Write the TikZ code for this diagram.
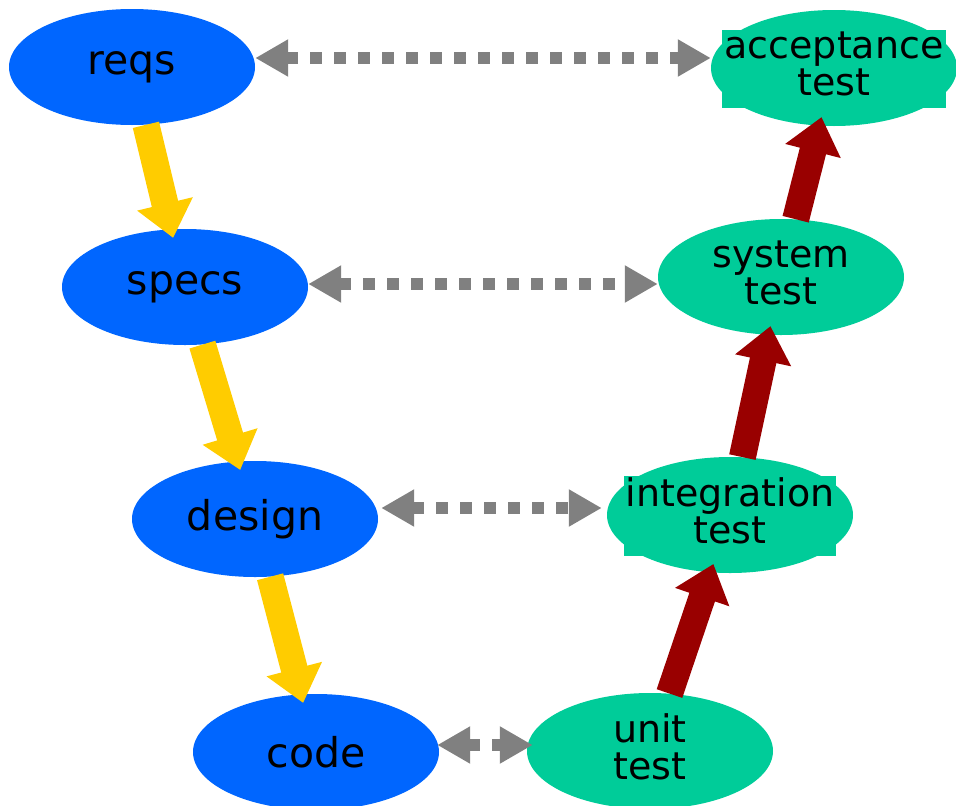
\documentclass[tikz,border=0pt]{standalone}
\usepackage{fontspec}
\setmainfont{DejaVu Sans}
\usetikzlibrary{shapes.geometric,arrows.meta}
\definecolor{reqblue}{HTML}{0066FF}
\definecolor{testgreen}{HTML}{00CC99}
\definecolor{flowyellow}{HTML}{FFCC00}
\definecolor{testred}{HTML}{990000}
\definecolor{linkgrey}{HTML}{808080}
\renewcommand{\arraystretch}{0.97}
\setlength{\fboxsep}{2pt}
% text of a test node, kept out of the ellipse size
\newcommand{\testtext}[2]{\makebox[0pt]{\raisebox{-7pt}[0pt][0pt]{\colorbox{testgreen}{\begin{tabular}{@{}c@{}}#1\\#2\end{tabular}}}}}

\begin{document}
\begin{tikzpicture}[x=1pt,y=-1pt,
		phase/.style={ellipse, fill=reqblue, minimum width=246pt, minimum height=116pt, inner sep=0pt, font=\fontsize{41}{36}\selectfont},
		testphase/.style={phase, fill=testgreen, font=\fontsize{38}{36}\selectfont},
		down/.style={-{Triangle[length=35pt,width=55pt]}, line width=27pt, flowyellow, shorten >=-9pt},
		up/.style={down, testred},
		link/.style={{Triangle[length=33pt,width=35pt]}-{Triangle[length=33pt,width=35pt]}, line width=12pt, linkgrey, dash pattern=on 12pt off 12pt}]
			\useasboundingbox (0,0) rectangle (956,806);

			% left side
			\node [phase] (reqs) at (132,67) {reqs};
			\node [phase] (specs) at (185,287) {specs};
			\node [phase] (design) at (255,519) {design};
			\node [phase] (code) at (316,752) {code};

			% right side
			\node [testphase] (accept) at (834,68) {\testtext{acceptance}{test}};
			\node [testphase] (system) at (781,277) {\testtext{system}{test}};
			\node [testphase] (integ) at (730,515) {\testtext{integration}{test}};
			\node [testphase] (unit) at (650,751) {\testtext{unit}{test}};

			\draw [down] (reqs) -- (specs);
			\draw [down] (specs) -- (design);
			\draw [down] (design) -- (code);

			\draw [up] (unit) -- (integ);
			\draw [up] (integ) -- (system);
			\draw [up] (system) -- (accept);

			\draw [link] ([yshift=9pt]reqs.east) -- ([yshift=10pt]accept.west);
			\draw [link] ([yshift=3pt]specs.east) -- ([yshift=-7pt]system.west);
			\draw [link, shorten <=3pt, shorten >=5pt] ([yshift=11pt]design.east) -- ([yshift=7pt]integ.west);
			\draw [link, shorten <=-2pt, shorten >=-6pt] ([yshift=7pt]code.east) -- ([yshift=6pt]unit.west);
		\end{tikzpicture}
\end{document}
